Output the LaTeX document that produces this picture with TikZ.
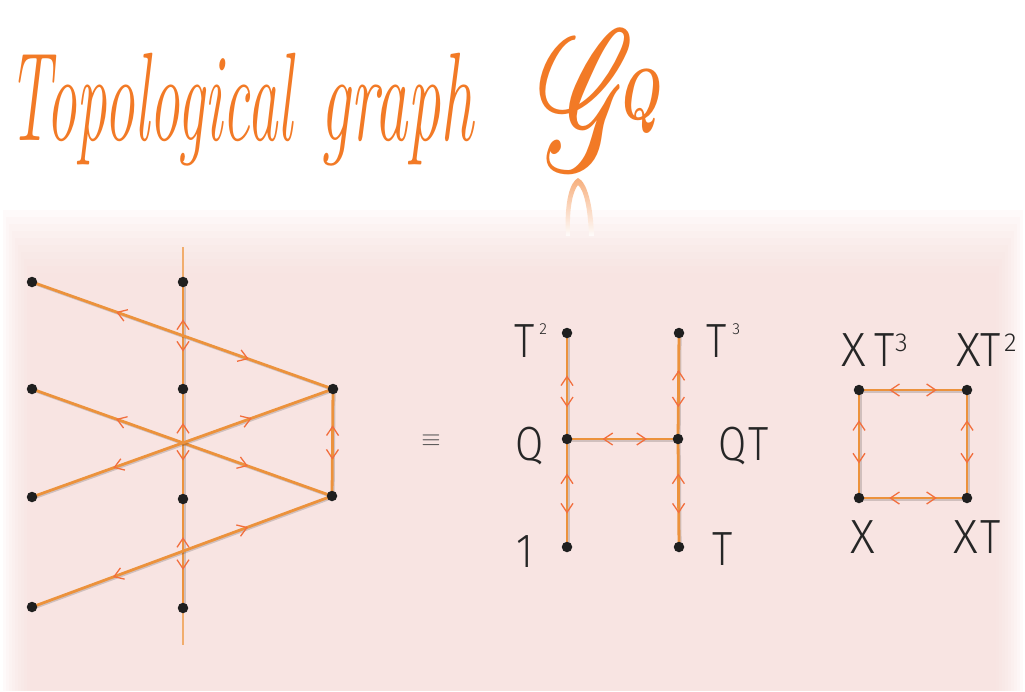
\documentclass[tikz,border=0pt]{standalone}
\usepackage{fontspec}
\usepackage{mathrsfs}
\usetikzlibrary{arrows.meta,decorations.markings}
\newfontfamily\labfont{Fira Sans}[UprightFont=* Light]
\definecolor{edgeor}{RGB}{236,146,60}
\definecolor{arrowc}{RGB}{242,110,62}
\definecolor{titleor}{RGB}{242,122,38}
\definecolor{bgpink}{RGB}{248,222,219}
\pgfdeclarelayer{bg}\pgfdeclarelayer{edges}\pgfsetlayers{bg,edges,main}
\newcommand\lbl[1]{\scalebox{0.85}[1]{#1}}
\newcommand\supA[1]{\raisebox{23pt}{\fontsize{16}{16}\selectfont #1}}
\newcommand\supB[1]{\raisebox{15pt}{\fontsize{26}{26}\selectfont #1}}
\newcommand\bigG{\fontsize{20}{20}\selectfont\scalebox{6}[9.6]{$\mathscr{G}$}}
\tikzset{
 dot/.style={circle,inner sep=0pt,minimum size=10.5pt,fill=black!88},
 gedge/.style={draw=edgeor,line width=2.8pt,
   preaction={draw=black,opacity=0.16,line width=2.8pt,transform canvas={xshift=1.2pt,yshift=-1.2pt}}},
 stub/.style={draw=edgeor!75,line width=1.6pt},
 chev/.tip={Straight Barb[length=9pt,width=12pt,line width=1.3pt]},
 twoway/.style 2 args={postaction={decorate,decoration={markings,
    mark=at position #1 with {\arrowreversed[arrowc]{chev}},
    mark=at position #2 with {\arrow[arrowc]{chev}}}}},
 lab/.style={anchor=base west,inner sep=0pt,text=black!85,font=\labfont\fontsize{48}{48}\selectfont},
 title/.style={anchor=base west,inner sep=0pt,text=titleor,font=\fontsize{70}{70}\selectfont\itshape},
}
\begin{document}
\begin{tikzpicture}[x=1pt,y=-1pt]
\useasboundingbox (0,0) rectangle (1025,691);
\begin{pgfonlayer}{bg}
\fill[white] (0,0) rectangle (1025,691);
\foreach \i in {0,...,9}{\fill[bgpink,opacity=0.12] ({3+3*\i},{210+7*\i}) rectangle ({1023-3*\i},691);}
\end{pgfonlayer}

% title
\node[title] (t1) at (8,140) {\scalebox{0.87}[1.8]{Topological}};
\node[title] (t2) at (320,140) {\scalebox{0.95}[1.8]{graph}};
\node[anchor=base west,inner sep=0pt,text=titleor] (g) at (538,170) {\bigG};
\node[anchor=base west,inner sep=0pt,text=titleor] (q) at (617,119) {\fontsize{72}{72}\selectfont\scalebox{0.68}[1]{\bfseries\itshape Q}};
% reflection of the G
\shade[top color=titleor!75,bottom color=white,opacity=0.8]
  (566,236) .. controls (564,202) and (570,182) .. (578,178)
  .. controls (587,182) and (593,205) .. (594,236)
  -- (589,236) .. controls (588,208) and (584,190) .. (578,185)
  .. controls (573,191) and (569,206) .. (570,236) -- cycle;

% left graph dots
\node[dot] (L1) at (32,282) {};
\node[dot] (L2) at (32,389) {};
\node[dot] (L3) at (32,497) {};
\node[dot] (L4) at (32,607) {};
\node[dot] (M1) at (183,282) {};
\node[dot] (M2) at (183,389) {};
\node[dot] (M3) at (183,499) {};
\node[dot] (M4) at (183,608) {};
\node[dot] (R1) at (333,389) {};
\node[dot] (R2) at (332,496) {};
\coordinate (vt) at (183,247);
\coordinate (vb) at (183,645);

% H graph dots
\node[dot] (A1) at (567,333) {};
\node[dot] (A2) at (567,439) {};
\node[dot] (A3) at (567,547) {};
\node[dot] (B1) at (679,333) {};
\node[dot] (B2) at (678,439) {};
\node[dot] (B3) at (679,547) {};

% square dots
\node[dot] (C1) at (859,390) {};
\node[dot] (C2) at (967,390) {};
\node[dot] (C3) at (859,498) {};
\node[dot] (C4) at (967,498) {};

\begin{pgfonlayer}{edges}
\draw[stub] (vt) -- (M1.center);
\draw[stub] (M4.center) -- (vb);
\draw[gedge,twoway={0.35}{0.65}] (M1.center) -- (M2.center);
\draw[gedge,twoway={0.31}{0.65}] (M2.center) -- (M3.center);
\draw[gedge,twoway={0.35}{0.65}] (M3.center) -- (M4.center);
\draw[gedge,twoway={0.28}{0.72}] (L1.center) -- (R1.center);
\draw[gedge,twoway={0.28}{0.72}] (L2.center) -- (R2.center);
\draw[gedge,twoway={0.27}{0.73}] (L3.center) -- (R1.center);
\draw[gedge,twoway={0.27}{0.72}] (L4.center) -- (R2.center);
\draw[gedge,twoway={0.34}{0.66}] (R1.center) -- (R2.center);
\draw[gedge,twoway={0.4}{0.7}] (A1.center) -- (A2.center);
\draw[gedge,twoway={0.32}{0.69}] (A2.center) -- (A3.center);
\draw[gedge,twoway={0.35}{0.7}] (B1.center) -- (B2.center);
\draw[gedge,twoway={0.32}{0.69}] (B2.center) -- (B3.center);
\draw[gedge,twoway={0.32}{0.72}] (A2.center) -- (B2.center);
\draw[gedge,twoway={0.28}{0.72}] (C1.center) -- (C2.center);
\draw[gedge,twoway={0.28}{0.72}] (C3.center) -- (C4.center);
\draw[gedge,twoway={0.28}{0.68}] (C1.center) -- (C3.center);
\draw[gedge,twoway={0.28}{0.68}] (C2.center) -- (C4.center);
\end{pgfonlayer}

% equivalence sign
\node[inner sep=0pt,text=black!70] (eq) at (431,441) {\fontsize{34}{34}\selectfont$\equiv$};

% H labels
\node[lab] (lT2) at (514,357) {\lbl{T}\hspace{5pt}\supA{2}};
\node[lab] (lQ) at (515,460) {\lbl{Q}};
\node[lab] (l1) at (516,567) {\lbl{1}};
\node[lab] (lT3) at (706,357) {\lbl{T}\hspace{6pt}\supA{3}};
\node[lab] (lQT) at (718,460) {\lbl{Q}\hspace{2pt}\lbl{T}};
\node[lab] (lT) at (712,565) {\lbl{T}};

% square labels
\node[lab] (lXT3) at (841,366) {X\hspace{9pt}\lbl{T}\supB{3}};
\node[lab] (lXT2) at (956,366) {X\lbl{T}\hspace{3pt}\supB{2}};
\node[lab] (lX) at (850,553) {X};
\node[lab] (lXT) at (953,553) {X\hspace{3pt}\lbl{T}};
\end{tikzpicture}
\end{document}
